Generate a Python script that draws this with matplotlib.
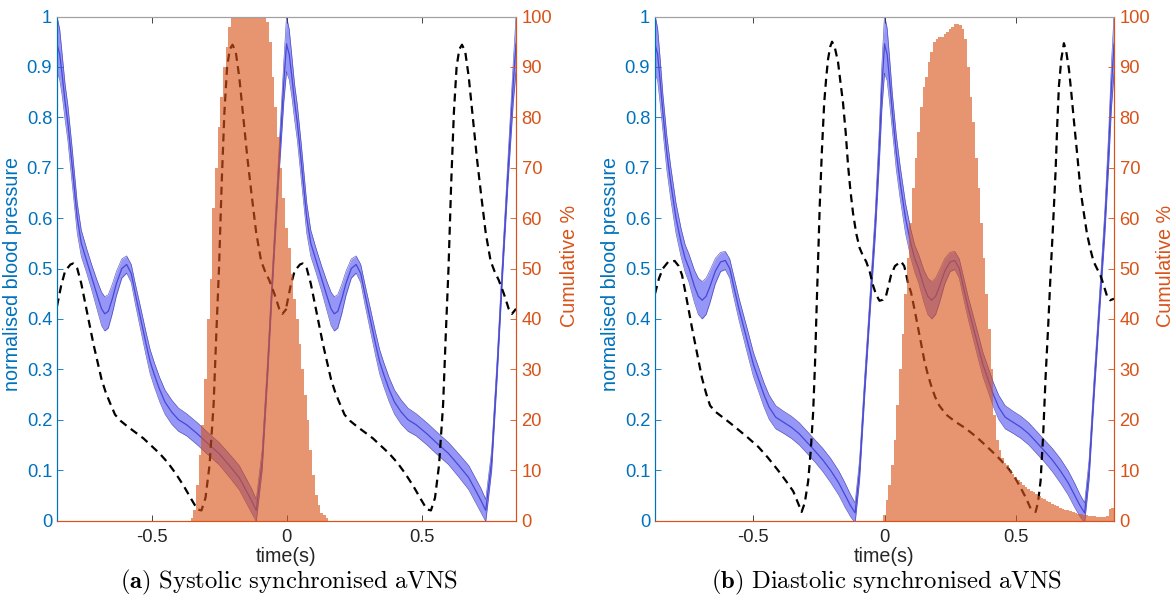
import numpy as np
import matplotlib
matplotlib.use("Agg")
import matplotlib.pyplot as plt

plt.rcParams['font.family'] = ['Liberation Sans', 'DejaVu Sans']
plt.rcParams['mathtext.fontset'] = 'cm'

BLUE = '#0072BD'
ORANGE = '#D95319'

# ---------------- Panel (a): systolic ----------------
# one cardiac cycle of the mean blood-pressure waveform (tau from systolic peak)
A_period = 0.85
A_tau = [0.000, 0.010, 0.020, 0.030, 0.040, 0.055, 0.075, 0.090, 0.110, 0.130,
         0.150, 0.165, 0.177, 0.190, 0.205, 0.220, 0.240, 0.258, 0.275, 0.290,
         0.310, 0.330, 0.345, 0.360, 0.380, 0.400, 0.425, 0.450, 0.480, 0.520,
         0.560, 0.600, 0.640, 0.675, 0.700, 0.720, 0.738, 0.760, 0.780, 0.800,
         0.820, 0.840, 0.850]
A_mean = [0.945, 0.925, 0.88, 0.83, 0.79, 0.71, 0.60, 0.55, 0.515, 0.48,
          0.445, 0.42, 0.41, 0.415, 0.44, 0.47, 0.50, 0.508, 0.49, 0.45,
          0.40, 0.35, 0.315, 0.29, 0.26, 0.235, 0.215, 0.20, 0.19, 0.172,
          0.152, 0.133, 0.108, 0.085, 0.06, 0.04, 0.02, 0.12, 0.30, 0.50,
          0.69, 0.87, 0.945]
A_sd = [0.055, 0.05, 0.04, 0.035, 0.035, 0.035, 0.03, 0.026, 0.024, 0.025,
        0.029, 0.033, 0.034, 0.033, 0.029, 0.024, 0.019, 0.017, 0.018, 0.02,
        0.022, 0.023, 0.024, 0.024, 0.024, 0.024, 0.024, 0.023, 0.022, 0.022,
        0.022, 0.022, 0.023, 0.024, 0.024, 0.024, 0.022, 0.02, 0.02, 0.02,
        0.025, 0.04, 0.055]
# dashed trace, one cycle from -0.85 to 0
A_dash_t = [-0.850, -0.835, -0.820, -0.800, -0.790, -0.775, -0.760, -0.745, -0.730, -0.715,
            -0.700, -0.685, -0.670, -0.655, -0.635, -0.615, -0.590, -0.560, -0.530, -0.500,
            -0.470, -0.440, -0.410, -0.380, -0.350, -0.330, -0.315, -0.300, -0.285, -0.270,
            -0.260, -0.250, -0.240, -0.230, -0.220, -0.210, -0.200, -0.188, -0.175, -0.160,
            -0.145, -0.130, -0.112, -0.094, -0.080, -0.064, -0.045, -0.027, -0.015, 0.000]
A_dash_v = [0.425, 0.465, 0.495, 0.508, 0.51, 0.50, 0.47, 0.43, 0.39, 0.35,
            0.315, 0.28, 0.255, 0.235, 0.21, 0.198, 0.187, 0.175, 0.163, 0.148,
            0.133, 0.115, 0.093, 0.068, 0.04, 0.022, 0.02, 0.045, 0.11, 0.23,
            0.37, 0.50, 0.67, 0.81, 0.90, 0.935, 0.944, 0.93, 0.88, 0.80,
            0.72, 0.65, 0.57, 0.515, 0.495, 0.477, 0.45, 0.42, 0.41, 0.42]
# stimulation timing histogram (%), 10 ms bins starting at -0.35 s
A_bin_start = -0.35
A_hist = [0.5, 2, 7, 13, 19, 28, 40, 48, 62, 70,
          78, 84, 90, 94, 98, 100, 100, 100, 100, 100,
          100, 100, 100, 100, 100, 100, 100, 100, 99, 95,
          88, 82, 76, 70, 64, 58, 54, 49, 44, 40,
          35, 30, 25, 20, 14, 9, 5, 3, 1.5, 1, 0.5]

# ---------------- Panel (b): diastolic ----------------
B_period = 0.875
B_tau = [0.000, 0.010, 0.020, 0.030, 0.045, 0.060, 0.080, 0.100, 0.115, 0.130,
         0.150, 0.165, 0.180, 0.195, 0.210, 0.230, 0.250, 0.268, 0.285, 0.300,
         0.320, 0.340, 0.355, 0.375, 0.395, 0.415, 0.435, 0.460, 0.490, 0.520,
         0.550, 0.580, 0.610, 0.640, 0.670, 0.700, 0.725, 0.745, 0.763, 0.780,
         0.800, 0.820, 0.840, 0.855, 0.865, 0.875]
B_mean = [0.945, 0.925, 0.87, 0.81, 0.73, 0.67, 0.60, 0.55, 0.52, 0.50,
          0.465, 0.445, 0.437, 0.445, 0.465, 0.495, 0.513, 0.516, 0.50, 0.465,
          0.42, 0.38, 0.35, 0.31, 0.28, 0.25, 0.225, 0.205, 0.195, 0.185,
          0.172, 0.155, 0.138, 0.12, 0.099, 0.075, 0.05, 0.03, 0.015, 0.10,
          0.27, 0.43, 0.59, 0.74, 0.86, 0.945]
B_sd = [0.058, 0.052, 0.044, 0.036, 0.034, 0.032, 0.03, 0.028, 0.027, 0.028,
        0.032, 0.036, 0.037, 0.036, 0.032, 0.025, 0.019, 0.018, 0.019, 0.021,
        0.022, 0.023, 0.024, 0.024, 0.024, 0.024, 0.024, 0.023, 0.022, 0.022,
        0.022, 0.022, 0.022, 0.023, 0.024, 0.024, 0.024, 0.022, 0.02, 0.02,
        0.02, 0.02, 0.025, 0.034, 0.044, 0.058]
B_dash_t = [-0.875, -0.860, -0.845, -0.825, -0.800, -0.785, -0.772, -0.760, -0.747, -0.735,
            -0.722, -0.709, -0.696, -0.680, -0.665, -0.645, -0.620, -0.590, -0.557, -0.520,
            -0.481, -0.445, -0.405, -0.375, -0.348, -0.330, -0.316, -0.304, -0.291, -0.281,
            -0.272, -0.265, -0.259, -0.253, -0.247, -0.239, -0.230, -0.222, -0.215, -0.207,
            -0.200, -0.190, -0.177, -0.168, -0.158, -0.148, -0.139, -0.130, -0.120, -0.108,
            -0.095, -0.082, -0.070, -0.057, -0.044, -0.032, -0.019, -0.006, 0.006, 0.015,
            0.025, 0.040, 0.063, 0.075, 0.082, 0.090, 0.101, 0.114, 0.127, 0.140,
            0.152, 0.165, 0.177, 0.193, 0.209, 0.225, 0.240, 0.270, 0.300, 0.316,
            0.350, 0.392, 0.430, 0.468, 0.495, 0.519, 0.540, 0.557, 0.576, 0.585,
            0.595, 0.605, 0.614, 0.624, 0.633, 0.643, 0.652, 0.659, 0.665, 0.674,
            0.684, 0.693, 0.703, 0.712, 0.722, 0.735, 0.747, 0.760, 0.772, 0.785,
            0.797, 0.810, 0.823, 0.835, 0.848, 0.860, 0.875]
B_dash_v = [0.45, 0.48, 0.50, 0.513, 0.515, 0.505, 0.487, 0.455, 0.419, 0.385,
            0.351, 0.317, 0.283, 0.252, 0.228, 0.216, 0.206, 0.194, 0.18, 0.164,
            0.146, 0.125, 0.099, 0.078, 0.058, 0.035, 0.017, 0.035, 0.078, 0.14,
            0.215, 0.31, 0.419, 0.52, 0.623, 0.73, 0.828, 0.88, 0.916, 0.94,
            0.95, 0.94, 0.909, 0.87, 0.828, 0.77, 0.705, 0.655, 0.61, 0.57,
            0.541, 0.525, 0.514, 0.495, 0.467, 0.448, 0.436, 0.438, 0.446, 0.465,
            0.487, 0.505, 0.514, 0.505, 0.49, 0.47, 0.453, 0.42, 0.385, 0.35,
            0.317, 0.29, 0.269, 0.245, 0.228, 0.217, 0.208, 0.196, 0.186, 0.18,
            0.166, 0.146, 0.127, 0.106, 0.087, 0.065, 0.044, 0.024, 0.017, 0.035,
            0.078, 0.17, 0.283, 0.385, 0.487, 0.59, 0.69, 0.79, 0.862, 0.915,
            0.947, 0.93, 0.896, 0.85, 0.794, 0.725, 0.657, 0.61, 0.569, 0.538,
            0.514, 0.50, 0.487, 0.468, 0.446, 0.437, 0.44]
B_bin_start = 0.0
B_hist = [1, 4, 7, 11, 16, 23, 30, 37, 45, 52,
          59, 66, 72, 77, 82, 86, 88, 91, 93, 95,
          95.5, 96, 96, 96.5, 97, 97.5, 98, 98.5, 98.5, 98.3,
          97.5, 95.5, 90, 84, 79, 72, 66, 59, 52, 45,
          38, 30, 21, 16, 14, 12.5, 11.5, 11, 10, 9.2,
          8.6, 8, 7.6, 7, 6.6, 6.2, 5.9, 5.6, 5.2, 4.8,
          4.5, 4.2, 3.9, 3.6, 3.3, 3, 2.8, 2.5, 2.3, 2.1,
          2, 1.8, 1.6, 1.5, 1.3, 1.2, 1.1, 1, 0.9, 0.8,
          0.8, 0.7, 0.7, 0.7, 0.7, 0.8, 2.2, 2.5]
BIN_W = 0.01

x_ticks = [-0.5, 0, 0.5]
x_tick_labels = ['-0.5', '0', '0.5']
left_ticks = [0, 0.1, 0.2, 0.3, 0.4, 0.5, 0.6, 0.7, 0.8, 0.9, 1]
left_tick_labels = ['0', '0.1', '0.2', '0.3', '0.4', '0.5', '0.6', '0.7', '0.8', '0.9', '1']
right_ticks = [0, 10, 20, 30, 40, 50, 60, 70, 80, 90, 100]
right_tick_labels = [str(v) for v in right_ticks]

captions = [r'$\mathbf{(a)}\ \mathrm{Systolic\ synchronised\ aVNS}$',
            r'$\mathbf{(b)}\ \mathrm{Diastolic\ synchronised\ aVNS}$']

fig = plt.figure(figsize=(11.75, 6.09), dpi=100)
W, H = 1175.0, 609.0
panels = [
    dict(left=57, right=516, period=A_period, tau=A_tau, mean=A_mean, sd=A_sd,
         dt=A_dash_t, dv=A_dash_v, dash_shifts=[0.0, A_period],
         bs=A_bin_start, hist=A_hist, ylab_l=22, ylab_r=560),
    dict(left=655, right=1114, period=B_period, tau=B_tau, mean=B_mean, sd=B_sd,
         dt=B_dash_t, dv=B_dash_v, dash_shifts=[0.0],
         bs=B_bin_start, hist=B_hist, ylab_l=620, ylab_r=1156),
]
top_px, bot_px = 16.5, 520.5
FS = 13.2
LFS = 14.2

for i, p in enumerate(panels):
    wpx = p['right'] - p['left']
    ax = fig.add_axes([p['left'] / W, 1 - bot_px / H, wpx / W, (bot_px - top_px) / H])
    per = p['period']
    tau = np.array(p['tau']); m = np.array(p['mean']); sd = np.array(p['sd'])
    for shift in (-per, 0.0):
        t = tau + shift
        ax.fill_between(t, m - sd, m + sd, color='#9696F6', lw=0, zorder=1)
        ax.plot(t, m + sd, color='#3434A8', lw=0.45, alpha=0.8, zorder=2)
        ax.plot(t, m - sd, color='#3434A8', lw=0.45, alpha=0.8, zorder=2)
        ax.plot(t, m, color='#4848D6', lw=0.9, zorder=3)
    dt = np.array(p['dt']); dv = np.array(p['dv'])
    for shift in p['dash_shifts']:
        ax.plot(dt + shift, dv, color='black', lw=1.6,
                linestyle=(0, (3.6, 2.4)), zorder=4)
    ax.set_xlim(-per, per)
    ax.set_ylim(0, 1)
    ax.set_xticks(x_ticks)
    ax.set_xticklabels(x_tick_labels, fontsize=FS, color='#262626')
    ax.set_yticks(left_ticks)
    ax.set_yticklabels(left_tick_labels, fontsize=FS, color=BLUE)
    ax.tick_params(axis='both', direction='in', length=4, width=0.6)
    ax.tick_params(axis='x', top=True, colors='#262626', labelcolor='#262626', pad=6)
    ax.tick_params(axis='y', colors=BLUE, labelcolor=BLUE, pad=3.5)
    ax.set_xlabel('time(s)', fontsize=LFS, color='#262626', labelpad=1)
    ax.set_ylabel('normalised blood pressure', fontsize=LFS, color=BLUE)
    ax.yaxis.set_label_coords((p['ylab_l'] - p['left']) / wpx, 0.49)

    ax2 = ax.twinx()
    hist = np.array(p['hist'], dtype=float)
    centers = p['bs'] + BIN_W * np.arange(len(hist))
    ax2.bar(centers, hist, width=BIN_W, color=ORANGE, alpha=0.62,
            linewidth=0, zorder=2)
    ax2.set_ylim(0, 100)
    ax2.set_yticks(right_ticks)
    ax2.set_yticklabels(right_tick_labels, fontsize=FS, color=ORANGE)
    ax2.tick_params(axis='y', direction='in', length=4, width=0.6,
                    colors=ORANGE, labelcolor=ORANGE, pad=4)
    ax2.set_ylabel('Cumulative %', fontsize=LFS, color=ORANGE)
    ax2.yaxis.set_label_coords((p['ylab_r'] - p['left']) / wpx, 0.505)

    for a in (ax, ax2):
        a.spines['left'].set_color(BLUE)
        a.spines['right'].set_color(ORANGE)
        a.spines['bottom'].set_color(ORANGE)
        a.spines['top'].set_color('#A0A0A0')
        for s in a.spines.values():
            s.set_linewidth(0.8)

    cx = (p['left'] + p['right']) / 2.0 / W + 2.0 / W
    fig.text(cx, 27 / H, captions[i], ha='center', va='center', fontsize=17.8,
             color='black')

fig.savefig('out.png', dpi=100)
